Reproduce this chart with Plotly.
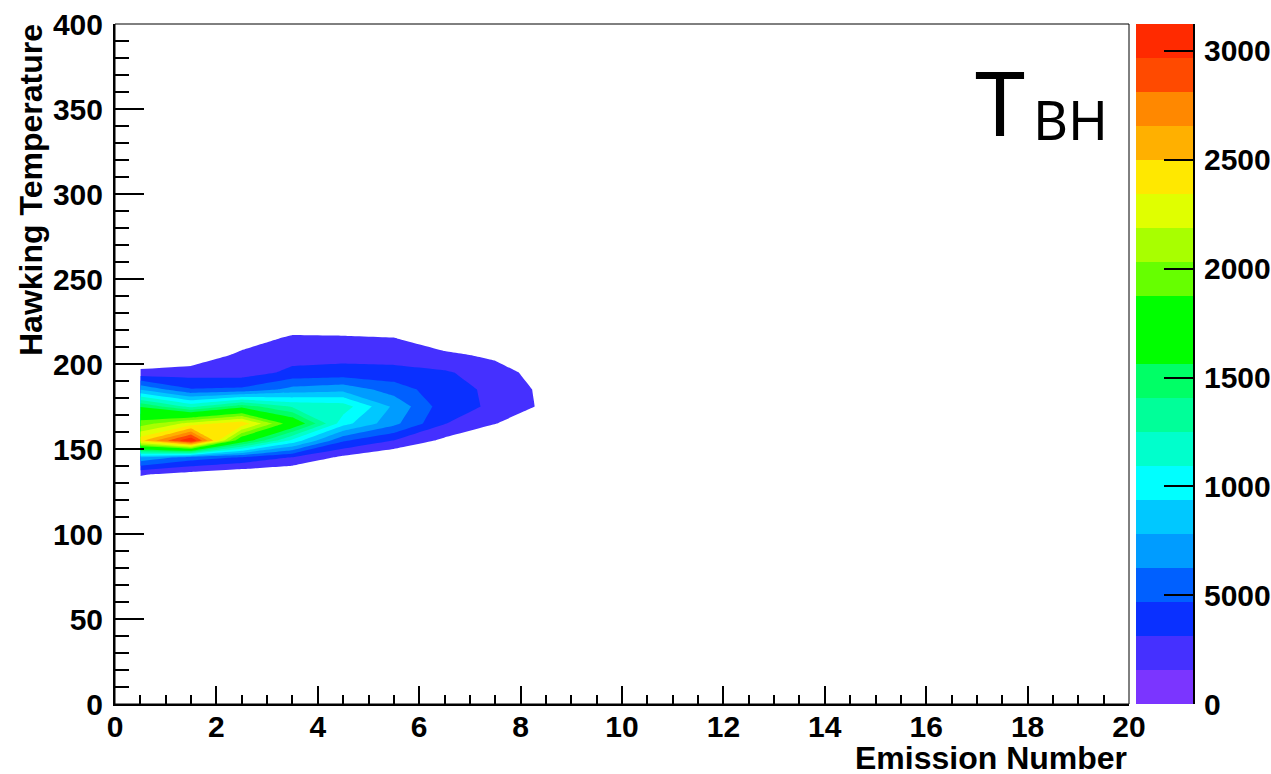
import numpy as np
import plotly.graph_objects as go

# ---- histogram content (bin centres and counts) ----
emission_bins = [0.5, 1.5, 2.5, 3.5, 4.5, 5.5, 6.5, 7.5, 8.5, 9.5]
temperature_bins = [115, 125, 135, 145, 155, 165, 175, 185, 195, 205, 215, 225, 235]

# one row per temperature bin, one column per emission-number bin
counts_T115 = [0, 0, 0, 0, 0, 0, 0, 0, 0, 0]
counts_T125 = [0, 0, 0, 0, 0, 0, 0, 0, 0, 0]
counts_T135 = [1700, 900, 200, 0, 0, 0, 0, 0, 0, 0]
counts_T145 = [7500, 5500, 4500, 3000, 1200, 0, 0, 0, 0, 0]
counts_T155 = [24500, 31240, 17000, 10500, 4900, 3100, 1200, 300, 0, 0]
counts_T165 = [19500, 22500, 24600, 17500, 10000, 6700, 3200, 1600, 500, 0]
counts_T175 = [15500, 12000, 15000, 12300, 11800, 7500, 3800, 2850, 1200, 0]
counts_T185 = [7700, 4800, 5000, 6800, 7300, 5500, 3700, 2800, 1100, 0]
counts_T195 = [1950, 2365, 2300, 3500, 3700, 3700, 3300, 2400, 600, 0]
counts_T205 = [0, 300, 2000, 2500, 2600, 2400, 2000, 1200, 0, 0]
counts_T215 = [0, 0, 600, 1900, 1800, 1650, 300, 0, 0, 0]
counts_T225 = [0, 0, 0, 200, 300, 0, 0, 0, 0, 0]
counts_T235 = [0, 0, 0, 0, 0, 0, 0, 0, 0, 0]

counts = [counts_T115, counts_T125, counts_T135, counts_T145, counts_T155,
          counts_T165, counts_T175, counts_T185, counts_T195, counts_T205,
          counts_T215, counts_T225, counts_T235]

# ---- palette: 20 contour bands between 0 and the histogram maximum ----
z_max = 31240
n_bands = 20
band_colors = ['#7b35ff', '#4530ff', '#0a30ff', '#0060ff', '#009cff',
               '#00c8ff', '#00ffff', '#00ffcc', '#00ff99', '#00ff66',
               '#00ff00', '#00ff00', '#66ff00', '#a8ff00', '#e0ff00',
               '#ffe800', '#ffb000', '#ff8800', '#ff4a00', '#ff2a00']
palette_ticks = [0, 5000, 10000, 15000, 20000, 25000, 30000]
palette_labels = ["0", "5000", "10000", "15000", "20000", "25000", "30000"]

levels = np.linspace(0, z_max, n_bands + 1)
step = levels[1] - levels[0]


def stepped_scale(colors):
    n = len(colors)
    scale = []
    for i, c in enumerate(colors):
        lo = max(0.0, (i - 0.5) / (n - 1))
        hi = min(1.0, (i + 0.5) / (n - 1))
        scale += [[lo, c], [hi, c]]
    return scale


# contour fill: nothing painted below the first level, then bands 2..20
contour_colors = ['#ffffff'] + band_colors[1:]
contour_scale = stepped_scale(contour_colors)

# palette strip
strip_scale = []
for i, c in enumerate(band_colors):
    strip_scale += [[i / n_bands, c], [(i + 1) / n_bands, c]]
strip_z = [[0.5 * (levels[i] + levels[i + 1])] for i in range(n_bands)]

FONT = "Liberation Sans, Arial, Helvetica, sans-serif"
tick_font = dict(family=FONT, size=30, color="black", weight="bold")

fig = go.Figure()

fig.add_trace(go.Contour(
    x=emission_bins, y=temperature_bins, z=counts,
    autocontour=False,
    contours=dict(start=levels[1], end=levels[n_bands - 1], size=step,
                  coloring="fill", showlines=False),
    line=dict(width=0, smoothing=0),
    colorscale=contour_scale,
    showscale=False,
    hoverinfo="skip",
))

fig.add_trace(go.Heatmap(
    x=[0, 1], y=levels, z=strip_z,
    zmin=0, zmax=z_max,
    colorscale=strip_scale, showscale=False,
    xaxis="x2", yaxis="y2", hoverinfo="skip",
))

W, H = 1271, 774
ml, mr, mt, mb = 115, 78, 24, 70
pw = W - ml - mr          # 1078
ph = H - mt - mb          # 680
frame_right = (1129 - ml) / pw
strip_left = (1136 - ml) / pw


def px_x(px):
    return (px - ml) / pw


def px_y(py):
    return (H - mb - py) / ph


fig.update_layout(
    width=W, height=H,
    margin=dict(l=ml, r=mr, t=mt, b=mb, pad=0, autoexpand=False),
    paper_bgcolor="white", plot_bgcolor="white",
    showlegend=False,
    xaxis=dict(
        domain=[0, frame_right], range=[0, 20], tick0=0, dtick=2,
        ticks="inside", ticklen=18, tickwidth=2, tickcolor="black",
        showline=True, linewidth=2, linecolor="black",
        showgrid=False, zeroline=False, tickfont=tick_font,
        ticklabelstandoff=-5, automargin=False,
        minor=dict(dtick=0.5, ticks="inside", ticklen=9, tickwidth=2,
                   tickcolor="black", showgrid=False),
    ),
    yaxis=dict(
        domain=[0, 1], range=[0, 400], tick0=0, dtick=50,
        ticks="inside", ticklen=29, tickwidth=2, tickcolor="black",
        showline=True, linewidth=2, linecolor="black",
        showgrid=False, zeroline=False, tickfont=tick_font,
        ticklabelstandoff=4, automargin=False,
        minor=dict(dtick=10, ticks="inside", ticklen=14, tickwidth=2,
                   tickcolor="black", showgrid=False),
    ),
    xaxis2=dict(domain=[strip_left, 1], range=[0, 1], anchor="y2",
                visible=False, fixedrange=True, automargin=False),
    yaxis2=dict(domain=[0, 1], range=[0, z_max], anchor="x2", side="right",
                tickvals=palette_ticks, ticktext=palette_labels,
                ticks="inside", ticklen=29,
                tickwidth=2, tickcolor="black", showline=True, linewidth=2,
                linecolor="black", showgrid=False, zeroline=False,
                tickfont=tick_font, ticklabelstandoff=3, automargin=False),
    shapes=[dict(type="rect", xref="paper", yref="paper",
                 x0=0, x1=frame_right, y0=0, y1=1,
                 line=dict(color="black", width=1), layer="above")],
    annotations=[
        dict(text="Emission Number", xref="paper", yref="paper",
             x=frame_right, y=px_y(758), xanchor="right", yanchor="middle",
             showarrow=False,
             font=dict(family=FONT, size=32, color="black", weight="bold")),
        dict(text="Hawking Temperature", xref="paper", yref="paper",
             x=px_x(31), y=px_y(22), xanchor="center", yanchor="top",
             textangle=-90, showarrow=False,
             font=dict(family=FONT, size=32, color="black", weight="bold")),
        dict(text="T", xref="paper", yref="paper",
             x=px_x(973), y=px_y(101), xanchor="left", yanchor="middle",
             showarrow=False,
             font=dict(family="Noto Sans", size=90, color="black")),
        dict(text="BH", xref="paper", yref="paper",
             x=px_x(1031), y=px_y(119), xanchor="left", yanchor="middle",
             showarrow=False,
             font=dict(family="Noto Sans", size=54, color="black")),
    ],
)

fig.write_html("out.html")
